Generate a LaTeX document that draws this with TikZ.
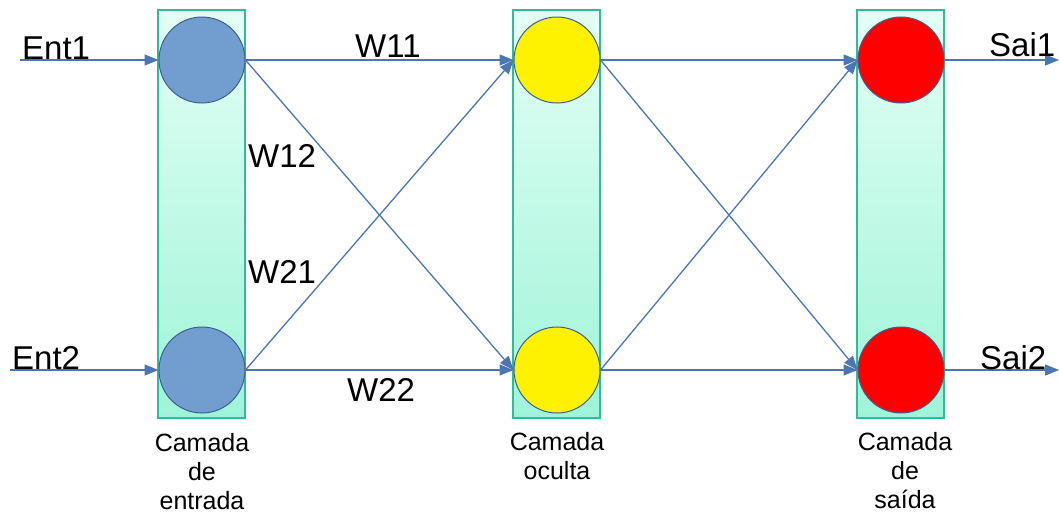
\documentclass[tikz,border=0pt]{standalone}
\usepackage{fontspec}
\setmainfont{Liberation Sans}
\usetikzlibrary{arrows.meta}
\definecolor{linkc}{HTML}{4A76B4}
\definecolor{boxedge}{HTML}{33BB99}
\definecolor{boxtop}{HTML}{E4FFF6}
\definecolor{boxbot}{HTML}{9EF4D8}
\definecolor{incol}{HTML}{729ECF}
\definecolor{circedge}{HTML}{3D5F90}
\tikzset{
  layerbox/.style={draw=boxedge, line width=1.2pt, top color=boxtop, bottom color=boxbot, minimum width=87pt, minimum height=408pt, inner sep=0pt},
  neuron/.style={circle, draw=circedge, line width=1pt, minimum size=86pt, inner sep=0pt},
  link/.style={draw=linkc, line width=1.3pt, -{Triangle[length=14pt,width=11pt]}},
  biglabel/.style={font=\fontsize{33}{38}\selectfont, inner sep=0pt},
  caption/.style={font=\fontsize{25}{29}\selectfont, align=center, inner sep=0pt, anchor=north}
}
\begin{document}
\begin{tikzpicture}[x=1pt,y=-1pt]
\useasboundingbox (0,0) rectangle (1059,515);
% layer boxes
\node[layerbox] (L1) at (201.5,214) {};
\node[layerbox] (L2) at (556.5,214) {};
\node[layerbox] (L3) at (900.5,214) {};
% neurons
\node[neuron, fill=incol] (i1) at (202,60) {};
\node[neuron, fill=incol] (i2) at (202,370) {};
\node[neuron, fill=yellow] (h1) at (557,60) {};
\node[neuron, fill=yellow] (h2) at (557,370) {};
\node[neuron, fill=red] (o1) at (901,60) {};
\node[neuron, fill=red] (o2) at (901,370) {};
% free ends
\coordinate (s1) at (20,60);
\coordinate (s2) at (10,370);
\coordinate (e1) at (1059,60);
\coordinate (e2) at (1059,370);
% connectors
\draw[link] (s1) -- (i1.west);
\draw[link] (s2) -- (i2.west);
\draw[link] (i1.east) -- (h1.west);
\draw[link] (i1.east) -- (h2.west);
\draw[link] (i2.east) -- (h1.west);
\draw[link] (i2.east) -- (h2.west);
\draw[link] (h1.east) -- (o1.west);
\draw[link] (h1.east) -- (o2.west);
\draw[link] (h2.east) -- (o1.west);
\draw[link] (h2.east) -- (o2.west);
\draw[link] (o1.east) -- (e1);
\draw[link] (o2.east) -- (e2);
% labels
\node[biglabel, anchor=base west] (ent1) at (22,59) {Ent1};
\node[biglabel, anchor=base west] (ent2) at (12,369) {Ent2};
\node[biglabel, anchor=base west] (sai1) at (989,56) {Sai1};
\node[biglabel, anchor=base west] (sai2) at (980,369) {Sai2};
\node[biglabel, anchor=base west] (w11) at (355,57) {W11};
\node[biglabel, anchor=base west] (w12) at (248,167) {W12};
\node[biglabel, anchor=base west] (w21) at (248,283) {W21};
\node[biglabel, anchor=base west] (w22) at (347,401) {W22};
\node[caption] (c1) at (202,433) {Camada\\de\\entrada};
\node[caption] (c2) at (557,432) {Camada\\oculta};
\node[caption] (c3) at (905,432) {Camada\\de\\saída};
\end{tikzpicture}
\end{document}
